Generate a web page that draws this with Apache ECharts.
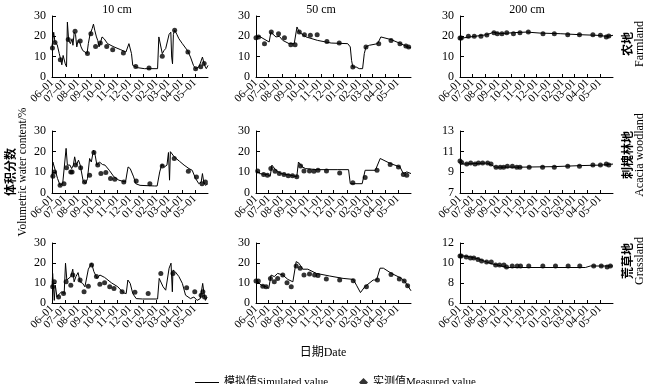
<!DOCTYPE html>
<html><head><meta charset="utf-8">
<script src="https://cdn.jsdelivr.net/npm/echarts@6/dist/echarts.min.js"></script>
<style>html,body{margin:0;padding:0;background:#fff}#c{width:648px;height:384px}</style>
</head><body><div id="c"></div>
<script>
// x values are days since 06-01
const monthLabels = ['06–01','07–01','08–01','09–01','10–01','11–01','12–01','01–01','02–01','03–01','04–01','05–01'];
const monthDays = [0,30,61,92,122,153,183,214,245,273,304,334];
const depthTitles = ['10 cm','50 cm','200 cm'];
const landCn = ['农地','刺槐林地','荒草地'];
const landEn = ['Farmland','Acacia woodland','Grassland'];

// Farmland
const farm10Sim = [[0,15],[4,22],[7,17],[12,16],[17,11.5],[21,8],[23,6],[26,10.6],[29,9.8],[31,6.5],[34,5],[36,27],[39,18],[43,16.4],[47,18.8],[49,15.6],[52,22],[55,21],[58,14.8],[61,18],[65,17],[68,14.8],[72,13],[77,12.3],[82,11.5],[85,16.4],[89,21],[94,23.8],[97,26],[100,23],[104,19.7],[107,18],[110,14.8],[113,16.4],[117,19.7],[122,18.8],[130,16.4],[145,14.8],[161,13.4],[173,12.3],[177,12.3],[180,16.4],[183,16.4],[186,11.5],[189,5.7],[192,5],[200,4.6],[216,4.1],[231,4.1],[247,4.1],[250,19.7],[254,18.8],[258,11.5],[262,13],[266,14],[270,14.8],[274,21],[278,22],[280,9.8],[282,6.5],[284,21],[287,23],[292,21],[297,18.8],[305,16.4],[317,13],[324,9.8],[331,5.7],[336,4.1],[344,5],[348,4.1],[352,9.8],[354,10.6],[357,5.7],[361,4.1],[365,5.7]];
const farm10Obs = [[1,14.3],[7,17],[19.5,8.5],[38,18.4],[54,22.5],[66,17.7],[83,11.5],[91,21.3],[102,15],[113,16.7],[128,15],[142,13.4],[167,11.8],[196,5.2],[227,4.4],[258,10.2],[287,23],[318,12.3],[336,4.1],[348,5],[356,6.6]];
const farm50Sim = [[0,19.7],[8,20],[31,17.2],[35,22],[47,19.7],[55,20],[63,18],[78,16.4],[90,16.4],[96.5,24.6],[102,22],[118,19.7],[145,18],[177,16.7],[216,16.4],[222,14.8],[225,8.2],[228,4.9],[236,4.9],[239.4,5.7],[243,4.1],[251,4.1],[255,11.5],[259,14.8],[267,15.6],[286.5,16.4],[294,19.7],[298,20.5],[318,18.4],[341,16.4],[357,14.8],[365,14.4]];
const farm50Obs = [[0,19.3],[6,19.7],[20,16.4],[36,22.1],[53,21.3],[67,19.3],[82,15.9],[92,15.9],[102,22.1],[114,20.8],[128,20.5],[144,20.8],[167,17.5],[196,16.7],[228,4.9],[259,14.8],[289,16.4],[318,18],[339,16.4],[353,15.2],[359.5,14.8]];
const farm200Sim = [[0,19],[24,19.7],[64,20.8],[80,22],[96,21.3],[127.5,21.8],[159,22.1],[191,21.6],[239,21.3],[287,20.8],[327,20.5],[350.6,20],[365,20.5]];
const farm200Obs = [[0,19.2],[3,19.2],[20,20],[34,20],[50,20],[64,20.7],[81,21.8],[89,21.3],[100,21.3],[111.5,21.8],[127.5,21.3],[143,21.8],[163,22.1],[198,21.3],[225,21.3],[257,20.8],[285,20.8],[317,20.8],[335,20.5],[349,19.7],[355,20.2]];

// Acacia woodland
const acacia10Sim = [[0,7.8],[2,15],[5,15.4],[7.6,11],[13,7],[19,3.7],[25,4.5],[29,4.5],[33,21.6],[36,13.5],[42,13.5],[46,11.8],[50,13.5],[53,17.5],[57,13.5],[62,15.9],[66,13.5],[72.5,6.2],[78.6,4.5],[83,7],[88,16.7],[92,15],[97,20.7],[101,18.3],[105,13.5],[111,15],[118,13.8],[124,13.5],[134,11],[145,7.8],[156.5,6.2],[172,5.3],[178,12.6],[183,11.8],[191,7.8],[196,4.5],[206,3.7],[240,3.4],[246,3.4],[252,10.2],[257,13.8],[263,12.6],[269,13.5],[272.5,19.6],[275,6.2],[277,20],[281,19.1],[286,17.5],[298,15.4],[309,13.5],[320.6,11.8],[328,11],[336,7],[343.5,4.5],[349,5.3],[352,9.4],[355,5.3],[359,3.7],[365,4.5]];
const acacia10Obs = [[2,8.1],[6,10.2],[19,3.7],[28,4.5],[34,12.2],[44,10.2],[47,10.2],[55,13.5],[67,12.2],[76,5.3],[88,8.6],[98,19.6],[107,13.5],[114.5,9.4],[126,9.9],[137,7],[147,6.6],[168,5.3],[197,5.8],[229,4.5],[258,13.1],[286,16.7],[319,10.5],[338,7.8],[351,4.5],[359,5.3]];
const acacia50Sim = [[0,11],[8,9.4],[27,8.9],[33.5,8.1],[37.4,13.5],[47,11],[58.5,9.4],[82,8.6],[96,7.8],[100,15],[109,12.6],[117,11.8],[144,11.3],[191,11.3],[218,11.3],[222,4.5],[250,4.5],[257,11],[281,11],[292.5,16.7],[316,14.3],[339,12.6],[347,9.4],[355,10.2],[365,9.4]];
const acacia50Obs = [[4,10.7],[18,8.9],[27,8.6],[35,11.8],[45,10.5],[55,9.4],[66,8.9],[76,8.3],[86,8.3],[96,7.9],[105,13.1],[113,10.7],[126,10.7],[136.5,10.5],[146,11],[166,10.7],[197,9.7],[228,4.9],[257,7.5],[285,11],[316,13.8],[335.5,12.6],[347,8.9],[355,8.6]];
const acacia200Sim = [[0,10],[8,9.8],[64,9.9],[76,9.7],[84,9.5],[143,9.5],[223,9.55],[287,9.65],[335,9.7],[365,9.8]];
const acacia200Obs = [[0,10.1],[4,9.95],[16,9.8],[25.5,9.9],[36,9.8],[44,9.9],[54,9.9],[66,9.9],[74,9.8],[86,9.5],[96,9.5],[104,9.5],[113,9.6],[125,9.6],[135.5,9.5],[143,9.5],[165,9.5],[197,9.5],[225,9.5],[257,9.6],[285,9.6],[317,9.7],[335,9.7],[349,9.8],[355,9.7]];

// Grassland
const grass10Sim = [[0,8.1],[1.5,14.8],[4,14.8],[5.4,1.3],[7.7,8.9],[11.6,3],[17.7,4.7],[23,5.6],[28.5,4.7],[31.6,19.9],[34.7,11.5],[39,10.6],[44,13.2],[48.6,16.9],[51.7,10.6],[56,13.2],[61,15.2],[65.6,10.6],[71.8,9.8],[77,8.1],[81,7.3],[85,16.9],[88.7,16.5],[92.6,19.9],[98,15.7],[105.7,12.3],[112,14],[123,12.8],[139,10.1],[154,8.1],[167,5.1],[173.6,4.7],[177.5,11.5],[183,9.8],[189,4.7],[197,2.2],[212,2],[247,2],[250.8,12.3],[254.6,11.5],[260,8.1],[266,6.4],[270,5.6],[274,17.4],[278.5,19.9],[281.6,5.6],[283,16.5],[288,15.7],[297,13.2],[305,9.8],[312.5,3.9],[324,2.2],[332,3],[339.5,1.3],[347,2.2],[352.6,9.8],[355.7,4.7],[359,1.3],[363,3]];
const grass10Obs = [[1.5,8.1],[5.4,10.6],[15.4,3],[27,4.7],[33,10.6],[44,8.9],[48.6,14],[65.6,11.5],[75,5.6],[85,8.4],[92.6,19],[104,13.2],[112,9.4],[123,10.1],[135,8.1],[145,7.3],[164,5.6],[194,5.4],[225,4.7],[254.6,14.8],[283,14.8],[315,7.6],[334,5.6],[349,3.9],[353,5.6],[357,3]];
const grass50Sim = [[0,11.5],[12,8.9],[23.7,8.1],[30,7.3],[35.5,14],[43,13.2],[51,14.8],[63,14],[75,11.8],[86.8,10.6],[94.6,20.7],[101,19.9],[110,16.9],[122,16.9],[142,14.8],[173.5,13.5],[205,12.3],[229,11.8],[236.6,8.9],[246,5.2],[256,8.1],[276,11.5],[284,11.5],[292,17.4],[300,17.4],[319,14.8],[343,12.3],[351,10.6],[359,8.1],[365,6.1]];
const grass50Obs = [[0,11],[5.5,11],[16,8.4],[23.7,8.1],[34,12.3],[43,10.6],[51,12.3],[63,14],[73,10.1],[83,8.1],[94.6,18.5],[104,17.4],[113,14],[126,14.5],[138,14],[146,13.7],[165.6,12],[197,11.5],[229,11.1],[260,8.1],[286,11.5],[318,14.3],[337.5,12],[349,11],[357,8.6]];
const grass200Sim = [[0,10.75],[25,10.6],[45,10.4],[57,10.2],[77,9.9],[90.5,9.8],[100.8,9.66],[112.7,9.55],[144,9.55],[224,9.55],[299,9.55],[311,9.7],[365,9.7]];
const grass200Obs = [[0,10.7],[3,10.7],[15,10.6],[25,10.5],[33,10.5],[43,10.35],[51.6,10.2],[63.5,10.1],[74.6,10.1],[85,9.8],[94.4,9.8],[104.8,9.8],[111,9.6],[124.6,9.7],[136.5,9.7],[144.4,9.7],[164,9.7],[197.6,9.7],[227.8,9.7],[258,9.7],[285.7,9.7],[319,9.7],[337,9.7],[351,9.6],[358.7,9.7]];

// y-axis ranges [min, max, interval] per panel (row-major)
const yRanges = [[0,30,10],[0,30,10],[0,30,10],[0,30,10],[0,30,10],[7,13,2],[0,30,10],[0,30,10],[6,12,2]];

const simName = '模拟值Simulated value';
const obsName = '实测值Measured value';
const simSets = [farm10Sim,farm50Sim,farm200Sim,acacia10Sim,acacia50Sim,acacia200Sim,grass10Sim,grass50Sim,grass200Sim];
const obsSets = [farm10Obs,farm50Obs,farm200Obs,acacia10Obs,acacia50Obs,acacia200Obs,grass10Obs,grass50Obs,grass200Obs];

const FONT = '"Liberation Serif","Times New Roman","Noto Sans CJK SC",serif';
const CJK = '"Noto Sans CJK SC",sans-serif';
const rowTop = [16, 131, 243], rowH = [61, 62, 60];
const colLeft = [52, 256, 460], colW = [156, 155, 153];

// month ticks split across two overlapping x axes so no label gets culled
const daysEven = monthDays.filter((d, k) => k % 2 === 0);
const daysOdd = monthDays.filter((d, k) => k % 2 === 1);
const monthFmt = v => monthLabels[monthDays.indexOf(v)] || '';

function makeX(i, days, showLine) {
  return {
    gridIndex: i, type: 'value', min: 0, max: 365, position: 'bottom', offset: 0,
    axisLine: {show: showLine, onZero: false, lineStyle: {color: '#000', width: 1}},
    axisTick: {show: true, inside: true, length: 3, customValues: days, lineStyle: {color: '#000'}},
    axisLabel: {show: true, customValues: days, rotate: 45, margin: 4, fontSize: 11, color: '#000', fontFamily: FONT,
      showMinLabel: true, showMaxLabel: true, hideOverlap: false, formatter: monthFmt},
    splitLine: {show: false}
  };
}

const grids = [], xAxes = [], yAxes = [], series = [];
for (let r = 0; r < 3; r++) for (let c = 0; c < 3; c++) {
  const i = r * 3 + c;
  grids.push({left: colLeft[c], top: rowTop[r], width: colW[c], height: rowH[r], containLabel: false});
  xAxes.push(makeX(i, daysEven, true));
  xAxes.push(makeX(i, daysOdd, false));
  const yr = yRanges[i];
  yAxes.push({
    gridIndex: i, type: 'value', min: yr[0], max: yr[1], interval: yr[2],
    axisLine: {show: true, lineStyle: {color: '#000', width: 1}},
    axisTick: {show: true, inside: true, length: 4, lineStyle: {color: '#000'}},
    axisLabel: {fontSize: 12, margin: 6, color: '#000', fontFamily: FONT, showMinLabel: true, showMaxLabel: true},
    splitLine: {show: false}
  });
  series.push({type: 'line', name: simName, xAxisIndex: 2 * i, yAxisIndex: i, data: simSets[i], symbol: 'none',
    lineStyle: {color: '#000', width: 1}, itemStyle: {color: '#000'}, z: 2});
  series.push({type: 'scatter', name: obsName, xAxisIndex: 2 * i, yAxisIndex: i, data: obsSets[i], symbol: 'circle',
    symbolSize: 5, itemStyle: {color: '#000'}, z: 3});
}

const graphics = [];
const titleX = [117, 321, 527];
depthTitles.forEach((t, k) => graphics.push({type: 'text', x: titleX[k], y: 10,
  style: {text: t, fontSize: 12, fontFamily: FONT, fill: '#000', align: 'center', verticalAlign: 'middle'}}));
const sideY = [44, 155, 261];
landCn.forEach((t, k) => {
  graphics.push({type: 'text', x: 627, y: sideY[k], rotation: Math.PI / 2,
    style: {text: t, fontSize: 12, fontWeight: 'bold', fontFamily: CJK, fill: '#000', align: 'center', verticalAlign: 'middle'}});
  graphics.push({type: 'text', x: 640, y: sideY[k], rotation: Math.PI / 2,
    style: {text: landEn[k], fontSize: 12, fontFamily: FONT, fill: '#000', align: 'center', verticalAlign: 'middle'}});
});
graphics.push({type: 'text', x: 10, y: 172, rotation: Math.PI / 2,
  style: {text: '体积分数', fontSize: 12, fontWeight: 'bold', fontFamily: CJK, fill: '#000', align: 'center', verticalAlign: 'middle'}});
graphics.push({type: 'text', x: 23, y: 172, rotation: Math.PI / 2,
  style: {text: 'Volumetric water content/%', fontSize: 11.5, fontFamily: FONT, fill: '#000', align: 'center', verticalAlign: 'middle'}});
graphics.push({type: 'text', x: 323, y: 353,
  style: {text: '日期Date', fontSize: 12, fontFamily: FONT, fill: '#000', align: 'center', verticalAlign: 'middle'}});

const chart = echarts.init(document.getElementById('c'), null, {renderer: 'canvas'});
chart.setOption({
  backgroundColor: '#fff',
  animation: false,
  grid: grids, xAxis: xAxes, yAxis: yAxes, series: series,
  legend: [
    {left: 190, top: 372, itemWidth: 24, itemHeight: 1, data: [{name: simName, icon: 'rect'}],
      itemStyle: {color: '#000'}, textStyle: {fontSize: 11, fontFamily: FONT, color: '#000'}},
    {left: 354, top: 372, itemWidth: 9, itemHeight: 9, data: [{name: obsName, icon: 'diamond'}],
      textStyle: {fontSize: 11, fontFamily: FONT, color: '#000'}}
  ],
  graphic: graphics
});
</script>
</body></html>
